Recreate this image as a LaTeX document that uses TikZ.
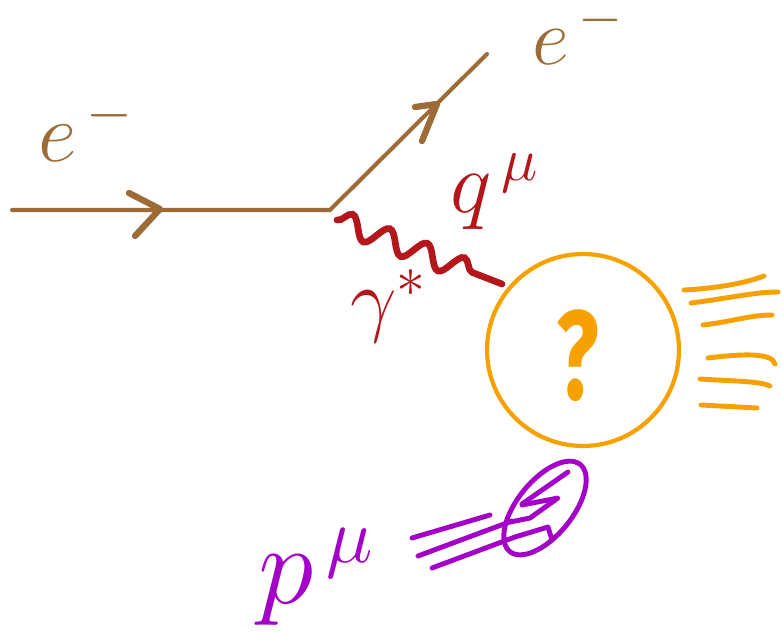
\RequirePackage{fix-cm}
\documentclass[tikz,border=0pt]{standalone}
\usepackage{fontspec}
\usepackage{tikz}
\usetikzlibrary{positioning, arrows.meta, calc, shapes.geometric, decorations.pathmorphing}
\newfontfamily\qmfont{Fira Sans}
\definecolor{ebrown}{HTML}{9C6B36}
\definecolor{gred}{HTML}{B3161B}
\definecolor{horange}{HTML}{F7A100}
\definecolor{ppurple}{HTML}{A300C8}

\begin{document}
\begin{tikzpicture}[
    x=0.02cm, y=-0.02cm,
    fermion/.style={draw=ebrown, line width=2.3pt, line cap=round},
    chev/.style={draw=ebrown, line width=3.6pt, line cap=round, line join=round},
    photon/.style={draw=gred, line width=3.8pt, line cap=round,
                   decorate, decoration={snake, segment length=0.8cm,
                   amplitude=0.22cm, post length=0.25cm}},
    jet/.style={draw=horange, line width=2.8pt, line cap=round},
    pline/.style={draw=ppurple, line width=2.8pt, line cap=round, line join=round},
    lab/.style={font=\fontsize{48}{52}\selectfont, inner sep=0pt, anchor=base west},
]
\useasboundingbox (0,0) rectangle (782,633);

% ============== electron line ==============
\coordinate (ein) at (12,210);
\coordinate (vtx) at (330,210);
\coordinate (eout) at (487,54);
\draw[fermion] (ein) -- (vtx) -- (eout);

\coordinate (cin) at (160,209);
\draw[chev] (cin) ++(-31,-16) -- (cin) -- ++(-25,27);
\coordinate (cout) at (437,104);
\draw[chev] (cout) ++(-22,3) -- (cout) -- ++(-15,37);

\node[lab, text=ebrown] (einlab) at (38,161) {$e^{\,\smash{-}}$};
\node[lab, text=ebrown, font=\fontsize{46}{50}\selectfont] (eoutlab) at (532,64) {$e^{\,\smash{-}}$};

% ============== virtual photon ==============
\coordinate (gstart) at (337,220);
\coordinate (gend) at (502,284);
\draw[photon] (gstart) -- (gend);

\node[lab, text=gred, font=\fontsize{50}{54}\selectfont] (qlab) at (450,212) {$q^{\,\mu}$};
\node[lab, text=gred, font=\fontsize{47}{50}\selectfont] (glab) at (350,326) {$\gamma^*$};

% ============== unknown vertex ==============
\node[draw=horange, line width=2.4pt, circle, minimum size=3.84cm,
      inner sep=0pt] (blob) at (583,350) {};
\node[text=horange, font=\qmfont\bfseries\fontsize{72}{76}\selectfont,
      inner sep=0pt] (qmark) at (578,356) {\scalebox{0.7}[1]{?}};

\draw[jet] (684,290) .. controls (720,288) and (745,283) .. (764,276);
\draw[jet] (691,303) .. controls (730,298) and (755,292) .. (778,292);
\draw[jet] (703,325) .. controls (730,322) and (750,315) .. (772,315);
\draw[jet] (708,358) .. controls (740,354) and (772,352) .. (775,364);
\draw[jet] (700,379) .. controls (730,381) and (760,381) .. (770,386);
\draw[jet] (701,405) -- (757,408);

% ============== proton ==============
\node[draw=ppurple, line width=2.8pt, ellipse, rotate=51,
      minimum width=2.24cm, minimum height=1.1cm, inner sep=0pt] (proton) at (545,508) {};
\draw[pline] (412,538) -- (490,515);
\draw[pline] (418,556) -- (512,521);
\draw[pline] (432,568) -- (515,537) -- (548,527) -- (552,540);
\draw[pline] (568,472) -- (522,504);
\draw[pline] (522,505) -- (558,498) -- (530,518) -- (510,522);

\node[lab, text=ppurple, font=\fontsize{64}{68}\selectfont] (plab) at (258,603) {$p^{\,\mu}$};

\end{tikzpicture}
\end{document}
